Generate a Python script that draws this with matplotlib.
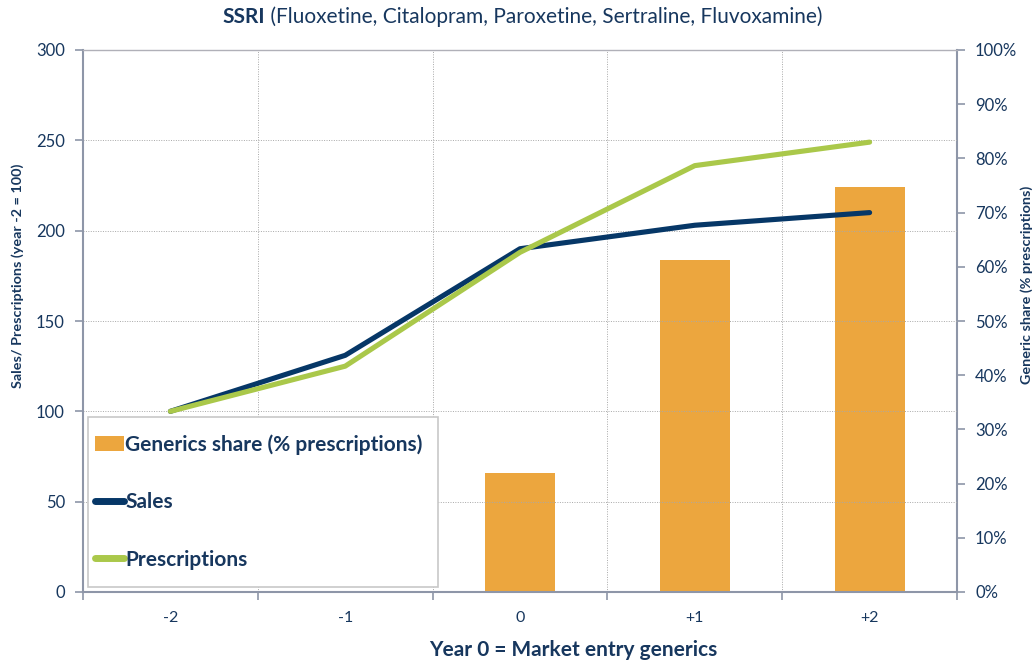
import matplotlib
matplotlib.use("Agg")
import matplotlib.pyplot as plt
from matplotlib.patches import Patch, Rectangle
from matplotlib.lines import Line2D
from matplotlib.ticker import MultipleLocator, FuncFormatter, FixedLocator

plt.rcParams['font.family'] = ['Lato', 'DejaVu Sans']

categories = ['-2', '-1', '0', '+1', '+2']
sales = [100, 131, 190, 203, 210]
prescriptions = [100, 125, 188, 236, 249]
generics_share = [0, 0, 22, 61.3, 74.8]

NAVY_TXT = '#17375E'
SALES_C = '#063767'
PRESC_C = '#AAC84A'
BAR_C = '#ECA63E'
SPINE_C = '#8E96A8'
GRID_C = '#A8A8A8'

W, H = 1035, 663
fig = plt.figure(figsize=(W/100, H/100), dpi=100)
ax = fig.add_axes([83/W, 1-592/H, (957-83)/W, (592-50)/H])
ax2 = ax.twinx()

x = [i + 0.5 for i in range(len(categories))]

ax2.bar(x, generics_share, width=0.40, color=BAR_C, zorder=1)
ax2.set_ylim(0, 100)
ax.set_zorder(2)
ax.patch.set_visible(False)

ax.plot(x, sales, color=SALES_C, lw=3.7, solid_capstyle='round', solid_joinstyle='round', zorder=3)
ax.plot(x, prescriptions, color=PRESC_C, lw=3.7, solid_capstyle='round', solid_joinstyle='round', zorder=4)

ax.set_xlim(0, 5)
ax.set_ylim(0, 300)
ax.yaxis.set_major_locator(MultipleLocator(50))
ax2.yaxis.set_major_locator(MultipleLocator(10))
ax2.yaxis.set_major_formatter(FuncFormatter(lambda v, p: f"{int(round(v))}%"))

ax.xaxis.set_major_locator(FixedLocator([0, 1, 2, 3, 4, 5]))
ax.xaxis.set_major_formatter(FuncFormatter(lambda v, p: ''))
ax.xaxis.set_minor_locator(FixedLocator(x))
ax.set_xticklabels(categories, minor=True)
ax.tick_params(axis='x', which='minor', length=0, pad=14, labelsize=11.5, labelcolor=NAVY_TXT)
ax.tick_params(axis='x', which='major', length=6, color=SPINE_C, width=1.2)
ax.tick_params(axis='y', length=6, color=SPINE_C, width=1.2, labelsize=12, labelcolor=NAVY_TXT, pad=7)
ax2.tick_params(axis='y', length=6, color=SPINE_C, width=1.2, labelsize=12, labelcolor=NAVY_TXT, pad=7)

ax.grid(True, which='major', axis='both', color=GRID_C, linestyle=(0, (1, 1.5)), lw=0.7)
ax.set_axisbelow(True)

for a in (ax, ax2):
    for s in a.spines.values():
        s.set_visible(False)
for name, a in (('left', ax), ('bottom', ax), ('right', ax2)):
    a.spines[name].set_visible(True)
    a.spines[name].set_color(SPINE_C)
    a.spines[name].set_linewidth(1.5)
ax.spines['top'].set_visible(True)
ax.spines['top'].set_color('#B0B0B8')
ax.spines['top'].set_linewidth(1.0)

# Axis titles placed like the reference
fig.text(18/W, 1-276/H, 'Sales/ Prescriptions (year -2 = 100)', rotation=90, fontsize=10.4,
         fontweight='bold', color=NAVY_TXT, ha='center', va='center')
fig.text(1027/W, 1-285/H, 'Generic share (% prescriptions)', rotation=90, fontsize=10.4,
         fontweight='bold', color=NAVY_TXT, ha='center', va='center')
fig.text(573/W, 1-650/H, 'Year 0 = Market entry generics', fontsize=15,
         fontweight='bold', color=NAVY_TXT, ha='center', va='center')

# Title: bold "SSRI" followed by regular text
t1 = fig.text(222/W, 1-17/H, 'SSRI', fontsize=15, fontweight='bold', color=NAVY_TXT, ha='left', va='center')
fig.canvas.draw()
ax.annotate(' (Fluoxetine, Citalopram, Paroxetine, Sertraline, Fluvoxamine)', xy=(1, 0.5), xycoords=t1,
            va='center', ha='left', fontsize=15, color=NAVY_TXT, annotation_clip=False)

# Legend frame
frame = Rectangle((88/W, 1-587/H), (438-88)/W, (587-417)/H, transform=fig.transFigure,
                  facecolor='white', edgecolor='#C8C8C8', lw=1.2, zorder=9, clip_on=False)
ax.add_patch(frame)

handles = [Patch(facecolor=BAR_C, edgecolor='none'),
           Line2D([0], [0], color=SALES_C, lw=5, solid_capstyle='round'),
           Line2D([0], [0], color=PRESC_C, lw=5, solid_capstyle='round')]
labels = ['Generics share (% prescriptions)', 'Sales', 'Prescriptions']
leg = ax.legend(handles, labels, loc='upper left',
                bbox_to_anchor=(95/W, 1-434/H),
                bbox_transform=fig.transFigure,
                prop={'weight': 'bold', 'size': 15}, labelcolor=NAVY_TXT,
                frameon=False, handlelength=1.4, handleheight=0.75, handletextpad=0.05,
                labelspacing=1.8, borderpad=0, borderaxespad=0)
leg.set_zorder(10)

fig.savefig('out.png', dpi=100)
